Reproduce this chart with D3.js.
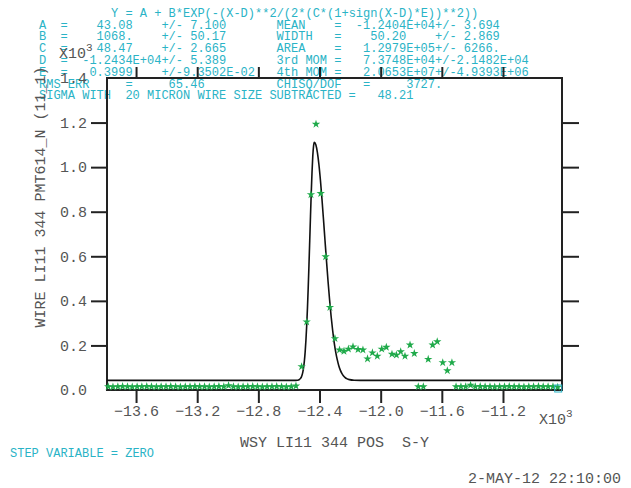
<!DOCTYPE html>
<html>
<head>
  <meta charset="utf-8">
  <title>WIRE LI11 344 scan</title>
  <script src="https://d3js.org/d3.v7.min.js"></script>
  <style>
    body { margin: 0; background: #fff; }
    svg text { font-family: "Liberation Mono", "Courier New", monospace; white-space: pre; }
  </style>
</head>
<body>
<svg id="chart" width="631" height="488"></svg>
<script>
// wire scan positions (x10^3 um)
const posX = [
  -13.782,-13.751,-13.719,-13.688,-13.656,-13.625,-13.593,-13.562,-13.530,-13.499,
  -13.467,-13.436,-13.404,-13.373,-13.341,-13.310,-13.278,-13.247,-13.215,-13.184,
  -13.152,-13.121,-13.089,-13.058,-13.026,-12.995,-12.963,-12.932,-12.900,-12.869,
  -12.837,-12.806,-12.774,-12.743,-12.711,-12.680,-12.648,-12.617,-12.585,-12.554,
  -12.517,-12.484,-12.456,-12.423,-12.392,-12.360,-12.332,-12.299,-12.269,-12.240,
  -12.211,-12.181,-12.148,-12.116,-12.086,-12.054,-12.022,-11.993,-11.963,-11.926,
  -11.897,-11.869,-11.841,-11.808,-11.780,-11.754,-11.721,-11.689,-11.660,-11.630,
  -11.594,-11.564,-11.534,
  -11.507,-11.475,-11.444,-11.412,-11.381,-11.349,-11.317,-11.285,-11.254,-11.222,
  -11.190,-11.159,-11.127,-11.095,-11.063,-11.031,-11.000,-10.968,-10.937,-10.905,
  -10.873,-10.842
];
// PMT signal (x10^3)
const wireY = [
  0.015,0.014,0.015,0.016,0.015,0.014,0.015,0.015,0.016,0.015,
  0.014,0.015,0.015,0.016,0.015,0.014,0.015,0.015,0.016,0.015,
  0.015,0.014,0.015,0.016,0.015,0.020,0.015,0.014,0.015,0.015,
  0.016,0.015,0.014,0.015,0.015,0.016,0.015,0.014,0.015,0.018,
  0.105,0.306,0.877,1.193,0.882,0.598,0.371,0.231,0.180,0.174,
  0.184,0.194,0.182,0.180,0.140,0.167,0.152,0.184,0.192,0.161,
  0.157,0.172,0.152,0.202,0.164,0.015,0.015,0.138,0.202,0.217,
  0.123,0.087,0.123,
  0.015,0.015,0.015,0.022,0.015,0.016,0.015,0.015,0.014,0.015,
  0.015,0.016,0.015,0.015,0.014,0.015,0.015,0.016,0.015,0.015,
  0.015,0.013
];

// asymmetric gaussian fit
const fitX = [-13.79,-12.60,-12.554,-12.544,-12.534,-12.524,-12.519,-12.514,-12.509,-12.504,
  -12.499,-12.494,-12.489,-12.484,-12.479,-12.474,-12.469,-12.464,-12.459,-12.454,
  -12.449,-12.444,-12.439,-12.434,-12.424,-12.414,-12.404,-12.394,-12.384,-12.374,
  -12.364,-12.354,-12.344,-12.334,-12.324,-12.314,-12.304,-12.294,-12.284,-12.274,
  -12.264,-12.254,-12.244,-12.234,-12.219,-12.204,-12.174,-12.134,-10.814];
const fitY = [0.043,0.043,0.0432,0.0439,0.046,0.052,0.058,0.067,0.0816,0.102,
  0.131,0.170,0.222,0.287,0.366,0.458,0.561,0.670,0.781,0.886,
  0.978,1.050,1.095,1.111,1.100,1.066,1.012,0.941,0.857,0.765,
  0.670,0.576,0.486,0.404,0.330,0.267,0.213,0.170,0.136,0.109,
  0.0894,0.075,0.0643,0.057,0.050,0.0465,0.0438,0.0431,0.0431];

const xTicks = [-13.6, -13.2, -12.8, -12.4, -12.0, -11.6, -11.2];
const yTicks = [0.0, 0.2, 0.4, 0.6, 0.8, 1.0, 1.2, 1.4];

// fit results block: [column, text]
const fitRows = [
  [[10, "Y = A + B*EXP(-(X-D)**2/(2*(C*(1+sign(X-D)*E))**2))"]],
  [[0, "A"], [3, "="], [8, "43.08"], [17, "+/-"], [21, "7.100"], [33, "MEAN"], [41, "="], [44, "-1.2404E+04+/- 3.694"]],
  [[0, "B"], [3, "="], [8, "1068."], [17, "+/-"], [21, "50.17"], [33, "WIDTH"], [41, "="], [46, "50.20"], [55, "+/-"], [59, "2.869"]],
  [[0, "C"], [3, "="], [8, "48.47"], [17, "+/-"], [21, "2.665"], [33, "AREA"], [41, "="], [45, "1.2979E+05+/- 6266."]],
  [[0, "D"], [3, "="], [6, "-1.2434E+04+/- 5.389"], [33, "3rd MOM"], [41, "="], [45, "7.3748E+04+/-2.1482E+04"]],
  [[0, "E"], [3, "="], [7, "0.3999"], [17, "+/-9.3502E-02"], [33, "4th MOM"], [41, "="], [45, "2.0653E+07+/-4.9393E+06"]],
  [[0, "RMS ERR"], [12, "="], [18, "65.46"], [33, "CHISQ/DOF"], [45, "="], [51, "3727."]],
  [[0, "SIGMA WITH"], [12, "20 MICRON WIRE SIZE SUBTRACTED"], [43, "="], [47, "48.21"]]
];

const cyan = "#2ab3c6", green = "#1faa4a", ink = "#222", grey = "#555";

const svg = d3.select("#chart");

// plot frame
const frameL = 107, frameR = 562, frameT = 78, frameB = 390;

const x = d3.scaleLinear().domain([-13.79, -10.814]).range([frameL, frameR]);
const y = d3.scaleLinear().domain([0, 1.4]).range([frameB, frameT]);

// fit parameter text (drawn first, frame goes over it)
const charW = 7.2;
svg.append("g")
  .selectAll("text")
  .data(fitRows)
  .join("text")
    .attr("y", (d, i) => 16.8 + i * 11.8)
    .attr("font-size", 12)
    .attr("fill", cyan)
  .selectAll("tspan")
  .data(d => d)
  .join("tspan")
    .attr("x", d => 39 + d[0] * charW)
    .text(d => d[1]);

// axes
const fmt = d3.format(".1f");

svg.append("g")
  .attr("transform", `translate(0,${frameB})`)
  .call(d3.axisBottom(x).tickValues(xTicks).tickSize(13).tickPadding(2).tickFormat(fmt))
  .attr("font-size", 15);

svg.append("g")
  .attr("transform", `translate(0,${frameT})`)
  .call(d3.axisTop(x).tickValues(xTicks).tickSize(11).tickFormat(""));

svg.append("g")
  .attr("transform", `translate(${frameL},0)`)
  .call(d3.axisLeft(y).tickValues(yTicks).tickSize(16).tickPadding(4).tickFormat(fmt))
  .attr("font-size", 15);

svg.append("g")
  .attr("transform", `translate(${frameR},0)`)
  .call(d3.axisRight(y).tickValues(yTicks).tickSize(17).tickFormat(""));

svg.selectAll(".domain").remove();
svg.selectAll(".tick line").attr("stroke", ink).attr("stroke-width", 2);
svg.selectAll(".tick text").attr("fill", grey);
// no tick marks at the frame corners
svg.selectAll(".tick").filter(d => d === 0 || d === 1.4).select("line").remove();

svg.append("rect")
  .attr("x", frameL).attr("y", frameT)
  .attr("width", frameR - frameL).attr("height", frameB - frameT)
  .attr("fill", "none")
  .attr("stroke", ink)
  .attr("stroke-width", 2);

// clip for the marks
svg.append("clipPath").attr("id", "plotClip")
  .append("rect")
  .attr("x", frameL).attr("y", frameT)
  .attr("width", frameR - frameL).attr("height", frameB - frameT);

const plot = svg.append("g").attr("clip-path", "url(#plotClip)");

// fit curve
const fitPts = fitX.map((v, i) => [v, fitY[i]]);
plot.append("path")
  .datum(fitPts)
  .attr("fill", "none")
  .attr("stroke", "#111")
  .attr("stroke-width", 1.6)
  .attr("d", d3.line().x(d => x(d[0])).y(d => y(d[1])).curve(d3.curveMonotoneX));

// data stars
const pts = posX.map((v, i) => [v, wireY[i]]);
svg.append("g")
  .selectAll("path")
  .data(pts)
  .join("path")
    .attr("transform", d => `translate(${x(d[0])},${y(d[1])})`)
    .attr("d", d3.symbol(d3.symbolStar, 22))
    .attr("fill", green);

// end marker
const last = pts[pts.length - 1];
svg.append("rect")
  .attr("x", x(last[0]) - 3).attr("y", y(0) - 5)
  .attr("width", 7).attr("height", 7)
  .attr("fill", "none")
  .attr("stroke", cyan)
  .attr("stroke-width", 1);

// axis titles
svg.append("text")
  .attr("transform", "translate(45,197) rotate(-90)")
  .attr("text-anchor", "middle")
  .attr("font-size", 15)
  .attr("fill", grey)
  .text("WIRE LI11 344 PMT614_N (11_1)");

svg.append("text")
  .attr("x", 240).attr("y", 447)
  .attr("font-size", 15)
  .attr("fill", grey)
  .text("WSY LI11 344 POS  S-Y");

// x10^3 multipliers
const mult = (tx, ty) => {
  const t = svg.append("text").attr("x", tx).attr("y", ty).attr("font-size", 15).attr("fill", grey);
  t.append("tspan").text("X10");
  t.append("tspan").attr("dy", -7).attr("font-size", 11).text("3");
};
mult(59, 58);
mult(539, 424);

svg.append("text")
  .attr("x", 10).attr("y", 457)
  .attr("font-size", 12)
  .attr("fill", cyan)
  .text("STEP VARIABLE = ZERO");

svg.append("text")
  .attr("x", 468).attr("y", 483)
  .attr("font-size", 15)
  .attr("fill", grey)
  .text("2-MAY-12 22:10:00");
</script>
</body>
</html>
